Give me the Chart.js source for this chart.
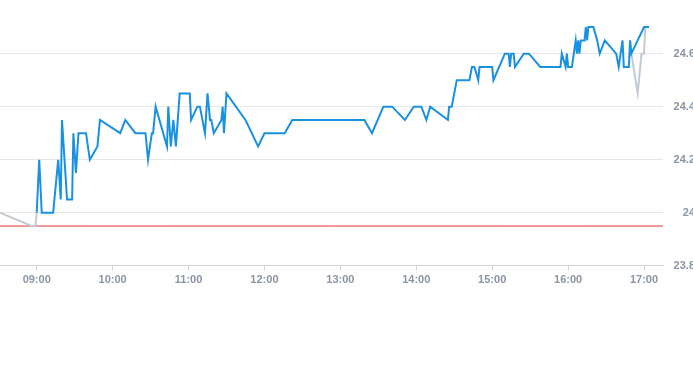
<!DOCTYPE html>
<html>
<head>
<meta charset="utf-8">
<script src="https://cdn.jsdelivr.net/npm/chart.js@4/dist/chart.umd.min.js"></script>
<style>
  body { margin: 0; background: #fff; overflow: hidden; }
  #wrap { position: relative; width: 693px; height: 365px; overflow: hidden; }
  #chartLine { position: absolute; left: 0; top: -16px; }
</style>
</head>
<body>
<div id="wrap"><canvas id="chartLine" width="705" height="306"></canvas></div>
<script>
// intraday prices
let times = ['09:00', '09:02', '09:04', '09:13', '09:17', '09:19', '09:20', '09:24', '09:28', '09:29',
  '09:31', '09:33', '09:39', '09:42', '09:48', '09:50', '10:06', '10:10', '10:18', '10:26',
  '10:28', '10:31', '10:32', '10:34', '10:43', '10:44', '10:46', '10:48', '10:50', '10:53',
  '11:01', '11:02', '11:07', '11:09', '11:13', '11:15', '11:17', '11:18', '11:20', '11:26',
  '11:27', '11:28', '11:30', '11:45', '11:55', '12:00', '12:16', '12:22', '13:19', '13:25',
  '13:34', '13:41', '13:51', '13:58', '14:04', '14:08', '14:11', '14:25', '14:26', '14:28',
  '14:32', '14:42', '14:44', '14:46', '14:49', '14:50', '15:00', '15:01', '15:10', '15:13',
  '15:14', '15:15', '15:17', '15:18', '15:25', '15:29', '15:38', '15:54', '15:55', '15:58',
  '15:59', '16:00', '16:03', '16:06', '16:07', '16:08', '16:09', '16:10', '16:13', '16:14',
  '16:15', '16:16', '16:20', '16:23', '16:25', '16:29', '16:38', '16:40', '16:43', '16:44',
  '16:48', '16:49', '16:50', '17:00', '17:04'];
let prices = [24.0, 24.2, 24.0, 24.0, 24.2, 24.05, 24.35, 24.05, 24.05, 24.3,
  24.15, 24.3, 24.3, 24.2, 24.25, 24.35, 24.3, 24.35, 24.3, 24.3,
  24.2, 24.3, 24.3, 24.4, 24.25, 24.4, 24.25, 24.35, 24.25, 24.45,
  24.45, 24.35, 24.4, 24.4, 24.3, 24.45, 24.35, 24.35, 24.3, 24.35,
  24.4, 24.3, 24.45, 24.35, 24.25, 24.3, 24.3, 24.35, 24.35, 24.3,
  24.4, 24.4, 24.35, 24.4, 24.4, 24.35, 24.4, 24.35, 24.4, 24.4,
  24.5, 24.5, 24.55, 24.55, 24.5, 24.55, 24.55, 24.5, 24.6, 24.6,
  24.55, 24.6, 24.6, 24.55, 24.6, 24.6, 24.55, 24.55, 24.6, 24.55,
  24.6, 24.55, 24.55, 24.65, 24.6, 24.65, 24.6, 24.65, 24.65, 24.7,
  24.65, 24.7, 24.7, 24.65, 24.6, 24.65, 24.6, 24.55, 24.65, 24.55,
  24.55, 24.65, 24.6, 24.7, 24.7];

// grey parts (before the open and the closing auction)
let preTimes = ['08:31', '08:56', '08:59', '09:00'];
let prePrices = [24.0, 23.95, 23.95, 24.0];
let lateTimes = ['16:50', '16:55', '16:58', '17:00', '17:01', '17:04'];
let latePrices = [24.6, 24.45, 24.6, 24.6, 24.7, 24.7];

let prevClose = 23.95;
let xMin = '08:31';
let xMax = '17:15';
let xTicks = ['09:00', '10:00', '11:00', '12:00', '13:00', '14:00', '15:00', '16:00', '17:00'];
let yTicks = [23.8, 24.0, 24.2, 24.4, 24.6];

let toMin = t => { let p = t.split(':'); return +p[0] * 60 + +p[1]; };
let pts = (ts, vs) => ts.map((t, i) => ({ x: toMin(t), y: vs[i] }));
let pad = n => (n < 10 ? '0' : '') + n;

let greyLine = { borderColor: '#c2cad2', borderWidth: 2, pointRadius: 0, tension: 0, order: 2 };
let tickFont = { family: 'Liberation Sans, Arial, sans-serif', size: 11, weight: 'bold' };

let ctx = document.getElementById('chartLine').getContext('2d');
let chartLine = new Chart(ctx, {
  type: 'line',
  data: {
    datasets: [
      { data: pts(times, prices), borderColor: '#1991e0', borderWidth: 2, pointRadius: 0, tension: 0, order: 1 },
      Object.assign({ data: pts(preTimes, prePrices) }, greyLine),
      Object.assign({ data: pts(lateTimes, latePrices) }, greyLine),
      { data: [{ x: toMin(xMin), y: prevClose }, { x: toMin(xMax), y: prevClose }],
        borderColor: '#e0352f', borderWidth: 1, pointRadius: 0, order: 3 }
    ]
  },
  options: {
    responsive: false,
    animation: false,
    events: [],
    layout: { padding: { right: 10 } },
    plugins: { legend: { display: false }, tooltip: { enabled: false } },
    scales: {
      x: {
        type: 'linear',
        min: toMin(xMin),
        max: toMin(xMax),
        afterBuildTicks: ax => { ax.ticks = xTicks.map(t => ({ value: toMin(t) })); },
        ticks: {
          autoSkip: false,
          maxRotation: 0,
          color: '#8a95a3',
          font: tickFont,
          padding: 3,
          callback: v => pad(Math.floor(v / 60)) + ':' + pad(v % 60)
        },
        grid: { drawOnChartArea: false, tickLength: 5, color: '#cdd5dd' },
        border: { color: '#cdd5dd' }
      },
      y: {
        position: 'right',
        min: 23.8,
        max: 24.8,
        afterBuildTicks: ax => { ax.ticks = yTicks.map(v => ({ value: v })); },
        afterFit: ax => { ax.width = 32; },
        ticks: {
          color: '#8a95a3',
          font: tickFont,
          padding: 10,
          crossAlign: 'far',
          callback: v => String(+v.toFixed(2))
        },
        grid: { color: '#e4e6e8', drawTicks: false },
        border: { display: false }
      }
    }
  }
});
</script>
</body>
</html>
